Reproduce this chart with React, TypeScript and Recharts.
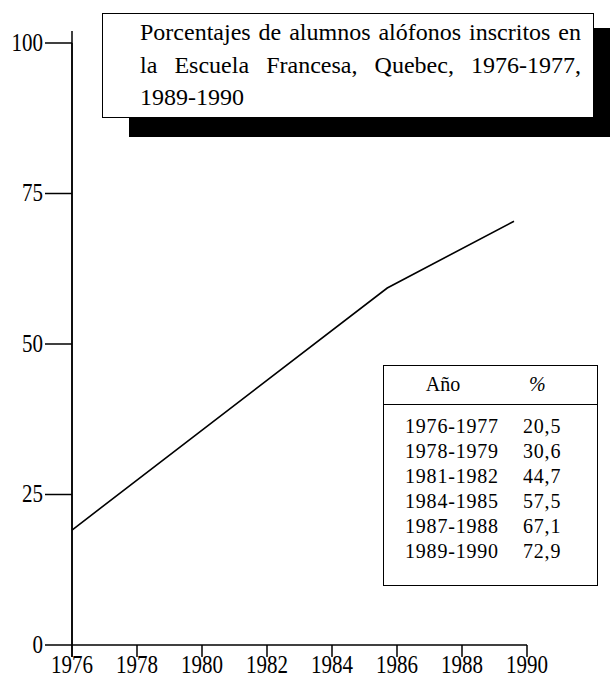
import React from "react";
import { Line, LineChart, ReferenceLine, XAxis, YAxis } from "recharts";

// values (the line itself, not the table)
const lineYears = [1976, 1985.7, 1989.6];
const lineValues = [19.1, 59.3, 70.4];

const xTicks = [1976, 1978, 1980, 1982, 1984, 1986, 1988, 1990];
const yTicks = [0, 25, 50, 75, 100];

const titleLines = [
  "Porcentajes de alumnos alófonos inscritos en",
  "la Escuela Francesa, Quebec, 1976-1977,",
  "1989-1990",
];

const tableHeader = ["Año", "%"];
const tablePeriods = ["1976-1977", "1978-1979", "1981-1982", "1984-1985", "1987-1988", "1989-1990"];
const tableValues = ["20,5", "30,6", "44,7", "57,5", "67,1", "72,9"];

const FONT = '"Liberation Serif", "DejaVu Serif", serif';

const data = lineYears.map((year, i) => ({ year, pct: lineValues[i] }));

function XTick({ x, y, payload }: any) {
  // scanned digits are a bit taller than plain Times
  return (
    <g transform={`translate(${x},${y}) scale(1,1.2)`}>
      <text x={0} y={13} textAnchor="middle" fontFamily={FONT} fontSize={21} fill="#000">
        {payload.value}
      </text>
    </g>
  );
}

function YTick({ x, y, payload }: any) {
  return (
    <g transform={`translate(${x},${y}) scale(1,1.2)`}>
      <text x={0} y={6.5} textAnchor="end" fontFamily={FONT} fontSize={21} fill="#000">
        {payload.value}
      </text>
    </g>
  );
}

export default function App() {
  return (
    <div style={{ position: "relative", width: 610, height: 677, background: "#fff", fontFamily: FONT }}>
      <style>{"body{margin:0}"}</style>
      <LineChart
        width={610}
        height={677}
        data={data}
        margin={{ top: 43, right: 83, left: 0, bottom: 0 }}
      >
        <XAxis
          dataKey="year"
          type="number"
          domain={[1976, 1990]}
          ticks={xTicks}
          interval={0}
          tickSize={12}
          tickMargin={0}
          height={32}
          stroke="#000"
          strokeWidth={1.5}
          tick={<XTick />}
        />
        <YAxis
          type="number"
          domain={[0, 100]}
          ticks={yTicks}
          interval={0}
          tickSize={27}
          tickMargin={2}
          width={72}
          stroke="#000"
          strokeWidth={1.5}
          tick={<YTick />}
        />
        <ReferenceLine
          segment={[
            { x: 1976, y: -2 },
            { x: 1976, y: 102 },
          ]}
          stroke="#000"
          strokeWidth={1.5}
          ifOverflow="visible"
        />
        <Line
          type="linear"
          dataKey="pct"
          stroke="#000"
          strokeWidth={1.6}
          dot={false}
          isAnimationActive={false}
        />
      </LineChart>

      {/* title box with its drop shadow */}
      <div style={{ position: "absolute", left: 129, top: 28, width: 481, height: 109, background: "#000" }} />
      <div
        style={{
          position: "absolute",
          left: 102,
          top: 13,
          width: 490,
          height: 103,
          border: "1px solid #000",
          background: "#fff",
        }}
      >
        <div
          style={{
            position: "absolute",
            left: 37,
            top: 2,
            width: 441,
            fontSize: 24,
            lineHeight: "32.5px",
            color: "#000",
          }}
        >
          {titleLines.map((l, i) => (
            <div
              key={i}
              style={{
                textAlign: "justify",
                textAlignLast: i < titleLines.length - 1 ? "justify" : "left",
                whiteSpace: "nowrap",
              }}
            >
              {l}
            </div>
          ))}
        </div>
      </div>

      {/* data table */}
      <div
        style={{
          position: "absolute",
          left: 383,
          top: 365,
          width: 213,
          height: 219,
          border: "1.5px solid #000",
          background: "#fff",
          color: "#000",
          fontSize: 20,
        }}
      >
        <div style={{ position: "relative", height: 38, borderBottom: "1.5px solid #000" }}>
          <div style={{ position: "absolute", left: 0, width: 118, top: 7, textAlign: "center" }}>
            {tableHeader[0]}
          </div>
          <div style={{ position: "absolute", left: 145, top: 7, fontStyle: "italic" }}>{tableHeader[1]}</div>
        </div>
        <div style={{ position: "relative", paddingTop: 9 }}>
          {tablePeriods.map((p, i) => (
            <div key={p} style={{ position: "relative", height: 25, lineHeight: "25px", letterSpacing: 0.8 }}>
              <div style={{ position: "absolute", left: 21 }}>{p}</div>
              <div style={{ position: "absolute", left: 139 }}>{tableValues[i]}</div>
            </div>
          ))}
        </div>
      </div>
    </div>
  );
}
